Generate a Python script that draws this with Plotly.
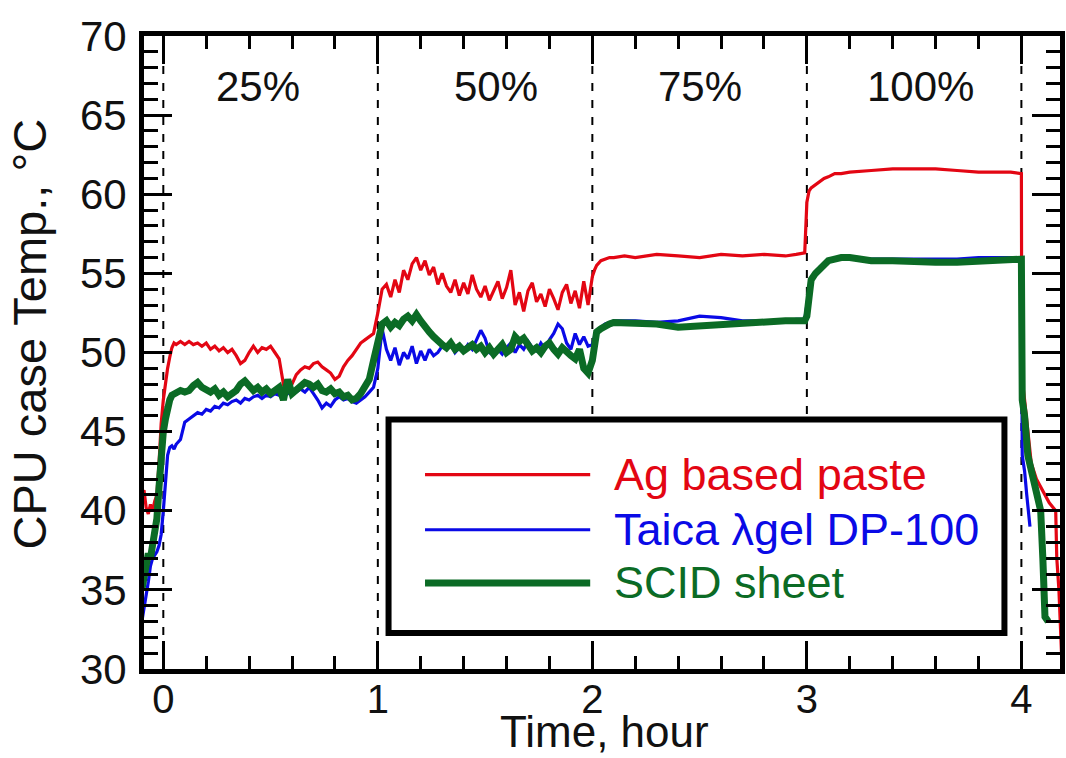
import plotly.graph_objects as go

# ---------------- data ----------------
hours = [
    -0.10, -0.09, -0.08, -0.07, -0.06, -0.05, -0.04, -0.03, -0.02, -0.01,
    0.00, 0.01, 0.02, 0.03, 0.04, 0.05, 0.06, 0.08, 0.10,
    0.12, 0.14, 0.16, 0.18, 0.20, 0.22, 0.24, 0.26, 0.28, 0.30,
    0.32, 0.34, 0.36, 0.38, 0.40, 0.42, 0.44, 0.46, 0.48, 0.50,
    0.52, 0.54, 0.56, 0.58, 0.60, 0.62, 0.64, 0.66, 0.68, 0.70,
    0.72, 0.74, 0.76, 0.78, 0.80, 0.82, 0.84, 0.86, 0.88, 0.90,
    0.92, 0.94, 0.96, 0.98, 1.00, 1.02, 1.04, 1.06, 1.08, 1.10,
    1.12, 1.14, 1.16, 1.18, 1.20, 1.22, 1.24, 1.26, 1.28, 1.30,
    1.32, 1.34, 1.36, 1.38, 1.40, 1.42, 1.44, 1.46, 1.48, 1.50,
    1.52, 1.54, 1.56, 1.58, 1.60, 1.62, 1.64, 1.66, 1.68, 1.70,
    1.72, 1.74, 1.76, 1.78, 1.80, 1.82, 1.84, 1.86, 1.88, 1.90,
    1.92, 1.94, 1.96, 1.98,
    2.00, 2.01, 2.02, 2.04, 2.06, 2.08, 2.10, 2.15, 2.20, 2.30,
    2.40, 2.50, 2.60, 2.70, 2.80, 2.90, 2.95, 2.99,
    3.00, 3.01, 3.02, 3.04, 3.06, 3.08, 3.10, 3.13, 3.16, 3.20,
    3.30, 3.40, 3.50, 3.60, 3.70, 3.80, 3.90, 3.95, 4.00,
]

ag_paste = [
    40.8, 41.3, 40.2, 39.8, 40.4, 40.0, 40.6, 41.0, 43.0, 45.5,
    47.0, 48.2, 49.0, 49.7, 50.3, 50.6, 50.5, 50.7, 50.5,
    50.7, 50.5, 50.6, 50.4, 50.6, 50.2, 50.4, 50.1, 50.3, 50.0,
    50.2, 49.8, 49.3, 49.5, 50.0, 50.4, 50.0, 50.3, 50.2, 50.4,
    50.0, 49.6, 48.0, 48.2, 48.0, 48.6, 48.9, 49.1, 49.0, 49.3,
    49.4, 49.1, 48.9, 48.7, 48.3, 48.5, 49.1, 49.5, 49.8, 50.2,
    50.6, 50.8, 51.0, 51.2, 52.5, 54.0, 54.3, 53.5, 54.6, 53.8,
    55.2, 54.6, 55.6, 56.0, 55.2, 55.8, 54.9, 55.4, 54.3, 55.0,
    54.2, 53.8, 54.6, 53.6, 54.4, 53.7, 54.9, 54.0, 53.5, 54.2,
    53.3, 53.9, 54.5, 53.4, 54.1, 55.2, 53.0, 53.8, 52.6, 53.9,
    54.4, 53.2, 53.7, 52.9, 54.0, 53.4, 52.7, 53.8, 54.3, 53.1,
    53.9, 52.8, 54.5, 53.0,
    54.8, 55.2, 55.5, 55.8, 55.9, 56.0, 56.0, 56.1, 56.0, 56.2,
    56.1, 56.0, 56.2, 56.1, 56.2, 56.1, 56.2, 56.3,
    59.5, 60.2, 60.4, 60.6, 60.8, 61.0, 61.1, 61.3, 61.3, 61.4,
    61.5, 61.6, 61.6, 61.6, 61.5, 61.4, 61.4, 61.4, 61.3,
]

taica_gel = [
    33.0, 33.8, 34.5, 35.5, 36.5, 37.0, 37.2, 37.4, 37.8, 38.5,
    40.0, 42.0, 43.5, 44.0, 44.1, 43.9, 44.2, 44.5, 45.6,
    45.8, 46.0, 46.2, 46.1, 46.4, 46.3, 46.6, 46.5, 46.8, 46.7,
    46.9, 47.0, 46.8, 47.1, 47.0, 47.2, 47.3, 47.1, 47.3, 47.2,
    47.4, 47.3, 47.5, 47.4, 47.6, 47.5, 47.7, 47.5, 47.8, 47.4,
    47.0, 46.5, 46.8, 46.6, 47.0, 47.2, 47.0, 47.1, 46.9, 46.8,
    47.0, 47.2, 47.5, 47.8, 49.0, 51.5, 50.2, 49.5, 50.3, 49.2,
    50.0, 49.6, 50.4, 49.3, 50.1, 49.5, 50.2, 49.8, 50.0, 50.4,
    50.2, 50.6, 50.0, 50.3, 50.1, 50.5, 50.2, 50.8, 51.4, 50.9,
    50.0, 49.8, 50.2, 49.9, 50.3, 50.6, 50.0, 50.5, 50.2, 50.7,
    50.3, 50.1, 50.6, 50.2, 50.8, 51.2, 51.8, 51.5, 50.6, 50.2,
    51.2, 50.5, 51.0, 50.4,
    50.5, 51.0, 51.4, 51.6, 51.8, 51.9, 52.0, 52.0, 52.0, 51.9,
    52.0, 52.3, 52.2, 52.0, 52.0, 52.0, 52.1, 52.1,
    53.0, 54.0, 54.6, 55.0, 55.4, 55.6, 55.8, 55.9, 56.0, 56.0,
    55.9, 55.9, 55.9, 55.9, 55.9, 56.0, 56.0, 56.0, 56.0,
]

scid_sheet = [
    35.0, 35.8, 36.8, 37.3, 37.0, 37.8, 38.5, 39.5, 41.5, 44.0,
    45.0, 45.8, 46.5, 47.0, 47.3, 47.4, 47.5, 47.6, 47.5,
    47.6, 47.9, 48.1, 47.8, 47.6, 47.5, 47.7, 47.3, 47.5, 47.2,
    47.4, 47.6, 48.0, 48.2, 47.9, 47.6, 47.8, 47.5, 47.7, 47.4,
    47.6, 47.8, 47.0, 48.3, 47.4, 47.6, 47.9, 48.1, 48.0, 47.8,
    48.0, 47.6, 47.5, 47.7, 47.4, 47.5, 47.2, 47.3, 47.0, 47.1,
    47.4, 47.8, 48.3, 49.5, 50.5, 51.8, 52.0, 51.6, 51.9, 51.7,
    52.1, 52.3, 52.0, 52.4, 52.0, 51.6, 51.3, 51.0, 50.7, 50.5,
    50.3, 50.6, 50.2, 50.4, 50.1, 50.3, 50.5, 50.2, 50.4, 50.0,
    50.3, 49.9, 50.2, 50.5, 50.0, 50.2, 51.0, 50.7, 50.9, 50.4,
    50.1, 50.3, 50.0, 50.4, 50.6, 50.2, 49.9, 50.3, 50.0, 49.8,
    49.6, 50.2, 49.0, 48.7,
    49.5, 50.8, 51.3, 51.5, 51.7, 51.8, 51.9, 51.9, 51.9, 51.8,
    51.6, 51.7, 51.8, 51.8, 51.9, 52.0, 52.0, 52.0,
    52.3, 53.8, 54.6, 55.0, 55.3, 55.6, 55.8, 55.9, 56.0, 56.0,
    55.8, 55.8, 55.7, 55.7, 55.7, 55.8, 55.8, 55.9, 55.9,
]

# cool-down after the 100% load ends (t > 4 h)
ag_tail_t = [4.002, 4.015, 4.03, 4.046, 4.07, 4.10, 4.13, 4.16, 4.165, 4.175, 4.185, 4.19]
ag_tail_v = [48.5, 47.0, 45.0, 43.0, 42.0, 41.2, 40.5, 40.0, 37.0, 35.0, 31.0, 30.0]
taica_tail_t = [4.004, 4.015, 4.025, 4.035, 4.04]
taica_tail_v = [43.5, 42.5, 41.0, 39.5, 39.0]
scid_tail_t = [4.004, 4.015, 4.03, 4.045, 4.07, 4.09, 4.10, 4.105, 4.11, 4.125]
scid_tail_v = [47.0, 46.0, 43.5, 42.5, 41.3, 40.0, 37.0, 34.5, 33.3, 33.0]

series_names = ["Ag based paste", "Taica \u03bbgel DP-100", "SCID sheet"]
series_colors = ["#e30613", "#0a0ae6", "#0b6b25"]
load_bounds = [0, 1, 2, 3, 4]
load_labels = ["25%", "50%", "75%", "100%"]
x_ticks = [0, 1, 2, 3, 4]

# ---------------- figure ----------------
FONT = "Liberation Sans, Arial, sans-serif"
fig = go.Figure()

all_series = [
    (hours + ag_tail_t, ag_paste + ag_tail_v, 3.2),
    (hours + taica_tail_t, taica_gel + taica_tail_v, 3.2),
    (hours + scid_tail_t, scid_sheet + scid_tail_v, 7),
]
for (tt, vv, w), name, col in zip(all_series, series_names, series_colors):
    fig.add_trace(go.Scatter(x=tt, y=vv, mode="lines", name=name,
                             line=dict(color=col, width=w), showlegend=False))

# dashed phase boundaries
for b in load_bounds:
    fig.add_shape(type="line", xref="x", yref="y", x0=b, x1=b, y0=30, y1=70,
                  line=dict(color="black", width=2, dash="8px,9px"), layer="below")

# phase labels
label_x = [0.44, 1.55, 2.5, 3.53]
for lx, lab in zip(label_x, load_labels):
    fig.add_annotation(x=lx, y=66.8, xref="x", yref="y", text=lab, showarrow=False,
                       font=dict(size=42, family=FONT, color="#111"))

# custom legend box
fig.add_shape(type="rect", xref="x", yref="y", x0=1.05, x1=3.921, y0=32.28, y1=45.76,
              line=dict(color="black", width=6), fillcolor="white", layer="above")
leg_y = [42.28, 38.80, 35.44]
leg_w = [3.2, 3.2, 7]
for ly, name, col, w in zip(leg_y, series_names, series_colors, leg_w):
    fig.add_shape(type="line", xref="x", yref="y", x0=1.22, x1=1.99, y0=ly, y1=ly,
                  line=dict(color=col, width=w), layer="above")
    fig.add_annotation(x=2.09, y=ly, xref="x", yref="y", text=name, showarrow=False,
                       xanchor="left", yanchor="middle",
                       font=dict(size=45, family=FONT, color=col))

# axis titles
fig.add_annotation(x=-0.1245, y=0.53, xref="paper", yref="paper",
                   text="CPU case Temp., \u00b0C", textangle=-90, showarrow=False,
                   xanchor="center", yanchor="middle",
                   font=dict(size=47, family=FONT, color="#111"))
fig.add_annotation(x=0.503, y=-0.139, xref="paper", yref="paper",
                   text="Time, hour", showarrow=False, borderpad=0,
                   xanchor="center", yanchor="bottom",
                   font=dict(size=44, family=FONT, color="#111"))

axis_common = dict(
    showline=True, linecolor="black", linewidth=5, mirror="allticks",
    ticks="inside", tickcolor="black", tickwidth=3, ticklen=28,
    showgrid=False, zeroline=False,
)
fig.update_xaxes(range=[-0.09, 4.18], tickvals=x_ticks, ticklabelstandoff=-9,
                 tickfont=dict(size=40, family=FONT, color="#111"),
                 minor=dict(dtick=0.2, ticks="inside", ticklen=13, tickwidth=3,
                            tickcolor="black", showgrid=False),
                 **axis_common)
fig.update_yaxes(range=[30, 70], dtick=5, tick0=30, ticklabelstandoff=4,
                 tickfont=dict(size=42, family=FONT, color="#111"),
                 minor=dict(dtick=1, ticks="inside", ticklen=14, tickwidth=3,
                            tickcolor="black", showgrid=False),
                 **axis_common)

fig.update_layout(
    width=1066, height=758,
    margin=dict(l=144, r=1, t=36, b=89),
    paper_bgcolor="white", plot_bgcolor="white",
    font=dict(family=FONT),
)

fig.write_html(
    "out.html",
    config={"displayModeBar": False},
    post_script="document.body.style.margin='0px';"
                "document.documentElement.style.overflow='hidden';",
)
